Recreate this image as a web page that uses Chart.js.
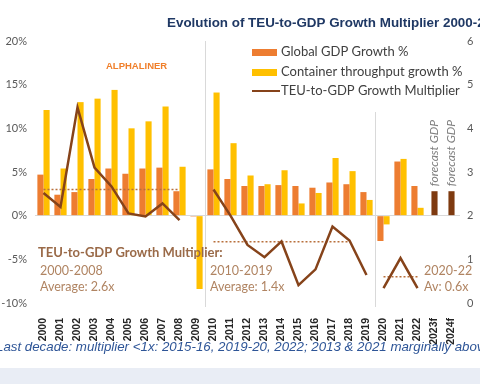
<!DOCTYPE html>
<html>
<head>
<meta charset="utf-8">
<script src="https://cdn.jsdelivr.net/npm/chart.js@4.4.0/dist/chart.umd.min.js"></script>
<style>
html, body { margin: 0; padding: 0; background: #fff; }
</style>
</head>
<body>
<canvas id="chart_teu" width="480" height="384"></canvas>
<script>
// categories
var years = ['2000','2001','2002','2003','2004','2005','2006','2007','2008','2009',
             '2010','2011','2012','2013','2014','2015','2016','2017','2018','2019',
             '2020','2021','2022','2023f','2024f'];

// global GDP growth %, container throughput growth %
var gdp = [4.7, 2.4, 2.7, 4.2, 5.4, 4.8, 5.4, 5.5, 2.8, -0.1,
           5.3, 4.2, 3.4, 3.4, 3.5, 3.4, 3.2, 3.8, 3.6, 2.7,
           -2.9, 6.2, 3.4, null, null];
var teu = [12.1, 5.4, 13.0, 13.4, 14.4, 10.0, 10.8, 12.5, 5.6, -8.4,
           14.1, 8.3, 4.6, 3.6, 5.2, 1.4, 2.6, 6.6, 5.1, 1.8,
           -1.0, 6.5, 0.9, null, null];
var gdpForecast = [null, null, null, null, null, null, null, null, null, null,
                   null, null, null, null, null, null, null, null, null, null,
                   null, null, null, 2.8, 2.8];

// TEU-to-GDP multiplier (right axis)
var multiplier = [2.52, 2.2, 4.48, 3.1, 2.67, 2.05, 1.98, 2.28, 1.9, null,
                  2.6, 2.0, 1.33, 1.05, 1.41, 0.41, 0.77, 1.75, 1.43, 0.64,
                  0.34, 1.03, 0.34, null, null];

// period averages
var periods = [
    {from: 0, to: 8, avg: 2.6, name: '2000-2008', label: 'Average: 2.6x'},
    {from: 10, to: 18, avg: 1.4, name: '2010-2019', label: 'Average: 1.4x'},
    {from: 20, to: 22, avg: 0.6, name: '2020-22', label: 'Av: 0.6x'}
];

var leftTicks = [-10, -5, 0, 5, 10, 15, 20];
var rightTicks = [0, 1, 2, 3, 4, 5, 6];

var cOrange = '#ED7D31';
var cYellow = '#FFC000';
var cBrown = '#86431A';
var cDark = '#7E3A10';
var cDots = '#B8703C';

function avgLine(p) {
    var arr = [];
    for (var i = 0; i < years.length; i++) {
        arr.push(i >= p.from && i <= p.to ? p.avg : null);
    }
    return arr;
}

var datasets = [
    {type: 'line', data: multiplier, yAxisID: 'y2', borderColor: cBrown, borderWidth: 2.5,
     pointRadius: 0, spanGaps: false, order: 0,
     segment: {borderColor: function(c) { return c.p0DataIndex === 19 ? 'transparent' : cBrown; }}},
    {type: 'bar', data: gdp, backgroundColor: cOrange, yAxisID: 'y', order: 2},
    {type: 'bar', data: teu, backgroundColor: cYellow, yAxisID: 'y', order: 2},
    {type: 'bar', data: gdpForecast, backgroundColor: cDark, yAxisID: 'y', order: 2,
     grouped: false, barPercentage: 0.5}
];
periods.forEach(function(p) {
    datasets.push({type: 'line', data: avgLine(p), yAxisID: 'y2', borderColor: cDots,
                   borderWidth: 1.5, borderDash: [2, 2], pointRadius: 0, order: 1});
});

var deco = {
    id: 'deco',
    beforeDraw: function(chart) {
        var c = chart.ctx;
        c.save();
        c.fillStyle = '#fff';
        c.fillRect(0, 0, chart.width, chart.height);
        c.fillStyle = '#E9EDF5';
        c.fillRect(0, 368, chart.width, chart.height - 368);
        c.restore();
    },
    beforeDatasetsDraw: function(chart) {
        var c = chart.ctx, xs = chart.scales.x, a = chart.chartArea;
        c.save();
        c.strokeStyle = '#D9D9D9';
        c.lineWidth = 1;
        var s1 = (xs.getPixelForValue(9) + xs.getPixelForValue(10)) / 2;
        var s2 = (xs.getPixelForValue(19) + xs.getPixelForValue(20)) / 2;
        c.beginPath();
        c.moveTo(Math.round(s1) + 0.5, a.top); c.lineTo(Math.round(s1) + 0.5, a.bottom + 4);
        c.moveTo(Math.round(s2) + 0.5, 112); c.lineTo(Math.round(s2) + 0.5, a.bottom + 4);
        c.stroke();
        c.restore();
    },
    afterDraw: function(chart) {
        var c = chart.ctx, xs = chart.scales.x, yl = chart.scales.y;
        c.save();
        c.textBaseline = 'middle';

        // title
        c.fillStyle = '#1F3864';
        c.font = 'bold 13.4px "Liberation Sans"';
        c.fillText('Evolution of TEU-to-GDP Growth Multiplier 2000-2024f', 167, 23);

        c.fillStyle = '#F07F2A';
        c.font = 'bold 9.5px "Liberation Sans"';
        c.fillText('ALPHALINER', 106, 66);

        // legend
        c.font = '13px Lato';
        c.fillStyle = cOrange; c.fillRect(252, 49, 25, 7);
        c.fillStyle = cYellow; c.fillRect(252, 69, 25, 7);
        c.strokeStyle = cBrown; c.lineWidth = 2;
        c.beginPath(); c.moveTo(252, 91); c.lineTo(280, 91); c.stroke();
        c.fillStyle = '#404040';
        c.fillText('Global GDP Growth %', 281, 52);
        c.fillText('Container throughput growth %', 281, 72);
        c.fillText('TEU-to-GDP Growth Multiplier', 281, 91);

        // period notes
        c.fillStyle = '#9A6A48';
        c.font = 'bold 13px Lato';
        c.fillText('TEU-to-GDP Growth Multiplier:', 38, 253);
        c.fillStyle = '#B08462';
        c.font = '12.5px Lato';
        var nx = [40, 210, 424];
        periods.forEach(function(p, i) {
            c.fillText(p.name, nx[i], 271);
            c.fillText(p.label, nx[i], 287);
        });

        // forecast notes
        c.fillStyle = '#7F7F7F';
        c.font = 'italic 12px Lato';
        for (var i = 0; i < years.length; i++) {
            if (gdpForecast[i] === null) continue;
            c.save();
            c.translate(xs.getPixelForValue(i), yl.getPixelForValue(gdpForecast[i]) - 5);
            c.rotate(-Math.PI / 2);
            c.fillText('forecast GDP', 0, 0);
            c.restore();
        }

        // caption
        c.fillStyle = '#2E5597';
        c.font = 'italic 13.3px "Liberation Sans"';
        c.fillText('Last decade: multiplier <1x: 2015-16, 2019-20, 2022; 2013 & 2021 marginally above', -4, 347);
        c.restore();
    }
};

var ctx = document.getElementById('chart_teu').getContext('2d');
var chart = new Chart(ctx, {
    type: 'bar',
    data: {labels: years, datasets: datasets},
    plugins: [deco],
    options: {
        responsive: false,
        animation: false,
        datasets: {bar: {categoryPercentage: 0.72, barPercentage: 1.0}},
        layout: {padding: {top: 41, left: 0, right: 0, bottom: 0}},
        plugins: {legend: {display: false}, tooltip: {enabled: false}, title: {display: false}},
        scales: {
            x: {
                grid: {display: false, drawTicks: false},
                border: {display: false},
                ticks: {minRotation: 90, maxRotation: 90, padding: 15, autoSkip: false,
                        color: '#262626', font: {family: '"Liberation Sans"', size: 10.5, weight: 'bold'}},
                afterFit: function(s) { s.height = 81; }
            },
            y: {
                position: 'left', min: -10, max: 20,
                afterBuildTicks: function(s) { s.ticks = leftTicks.map(function(v) { return {value: v}; }); },
                grid: {drawTicks: false, color: function(c) { return c.tick.value === 0 ? '#D9D9D9' : 'transparent'; }},
                border: {display: false},
                ticks: {padding: 8, color: '#595959', font: {family: 'Lato', size: 11},
                        callback: function(v) { return v + '%'; }},
                afterFit: function(s) { s.width = 35; }
            },
            y2: {
                position: 'right', min: 0, max: 6,
                afterBuildTicks: function(s) { s.ticks = rightTicks.map(function(v) { return {value: v}; }); },
                grid: {display: false, drawTicks: false},
                border: {display: false},
                ticks: {padding: 7, color: '#595959', font: {family: 'Lato', size: 11}},
                afterFit: function(s) { s.width = 20; }
            }
        }
    }
});
</script>
</body>
</html>
